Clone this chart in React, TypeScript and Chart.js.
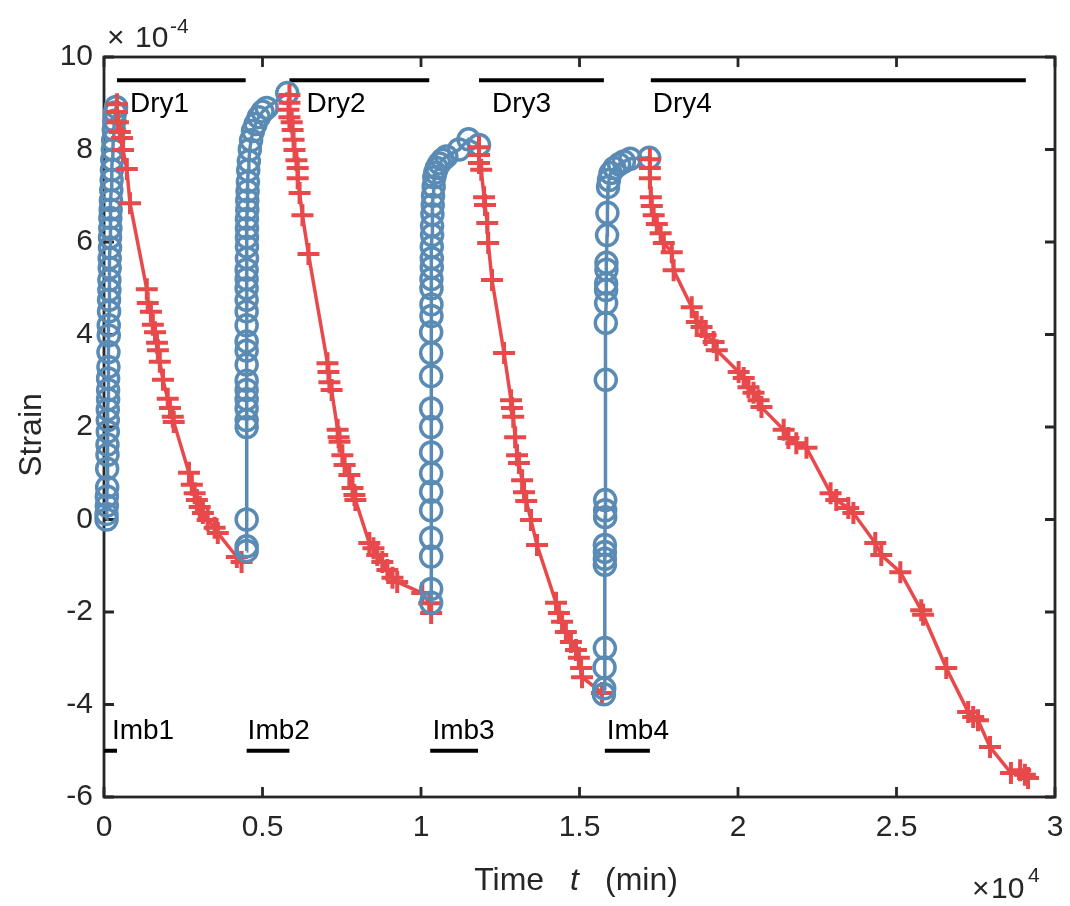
import React, { useEffect, useRef } from 'react';
import { Chart, registerables } from 'chart.js';

Chart.register(...registerables);

// ---------------- data (x in 10^4 min, y in 10^-4 strain) ----------------
const imb1T = [0.008, 0.008, 0.009, 0.009, 0.010, 0.010, 0.011, 0.011, 0.012, 0.012, 0.012, 0.013, 0.013, 0.013, 0.014, 0.014, 0.015, 0.015, 0.016, 0.016, 0.017, 0.017, 0.018, 0.018, 0.019, 0.019, 0.020, 0.020, 0.021, 0.022, 0.023, 0.024, 0.025, 0.026, 0.028, 0.029, 0.031, 0.033, 0.035, 0.038];
const imb1S = [0.00, 0.12, 0.30, 0.50, 0.70, 1.10, 1.40, 1.62, 1.90, 2.15, 2.38, 2.60, 2.80, 3.05, 3.30, 3.62, 3.98, 4.20, 4.50, 4.75, 4.96, 5.18, 5.44, 5.65, 5.88, 6.10, 6.30, 6.52, 6.70, 6.90, 7.12, 7.34, 7.56, 7.78, 8.00, 8.20, 8.42, 8.62, 8.80, 8.92];

const dry1T = [0.041, 0.041, 0.044, 0.050, 0.057, 0.060, 0.072, 0.082, 0.135, 0.138, 0.148, 0.154, 0.161, 0.167, 0.170, 0.176, 0.186, 0.201, 0.208, 0.217, 0.220, 0.268, 0.277, 0.286, 0.293, 0.302, 0.312, 0.327, 0.349, 0.359, 0.419, 0.434];
const dry1S = [8.98, 8.81, 8.59, 8.38, 8.25, 7.99, 7.58, 6.84, 4.98, 4.68, 4.49, 4.21, 4.05, 3.82, 3.66, 3.41, 3.02, 2.61, 2.41, 2.22, 2.11, 1.01, 0.75, 0.57, 0.42, 0.27, 0.14, -0.01, -0.18, -0.29, -0.81, -0.92];

const imb2T = [0.450, 0.450, 0.450, 0.450, 0.450, 0.450, 0.450, 0.450, 0.450, 0.450, 0.450, 0.450, 0.450, 0.450, 0.450, 0.450, 0.450, 0.450, 0.451, 0.451, 0.451, 0.451, 0.451, 0.452, 0.452, 0.453, 0.454, 0.455, 0.457, 0.460, 0.464, 0.470, 0.478, 0.488, 0.500, 0.513, 0.578];
const imb2S = [-0.68, -0.58, 0.00, 2.00, 2.15, 2.40, 2.60, 2.80, 3.00, 3.35, 3.65, 3.85, 4.20, 4.50, 4.75, 5.00, 5.20, 5.40, 5.65, 5.90, 6.10, 6.30, 6.50, 6.70, 6.90, 7.10, 7.30, 7.55, 7.75, 8.00, 8.20, 8.40, 8.55, 8.70, 8.82, 8.90, 9.22];

const dry2T = [0.585, 0.585, 0.582, 0.585, 0.592, 0.595, 0.598, 0.601, 0.607, 0.611, 0.611, 0.617, 0.626, 0.645, 0.705, 0.708, 0.711, 0.718, 0.737, 0.740, 0.743, 0.752, 0.759, 0.774, 0.784, 0.790, 0.793, 0.837, 0.850, 0.862, 0.878, 0.894, 0.910, 0.925, 1.004, 1.026, 1.032];
const dry2S = [9.18, 9.01, 8.86, 8.70, 8.59, 8.42, 8.21, 7.99, 7.77, 7.60, 7.38, 7.06, 6.58, 5.74, 3.38, 3.19, 2.97, 2.80, 1.94, 1.78, 1.68, 1.39, 1.18, 0.96, 0.68, 0.53, 0.42, -0.51, -0.62, -0.77, -0.92, -1.09, -1.26, -1.35, -1.59, -1.81, -2.02];

const imb3T = [1.032, 1.032, 1.032, 1.032, 1.032, 1.032, 1.032, 1.032, 1.032, 1.032, 1.032, 1.032, 1.032, 1.033, 1.033, 1.033, 1.033, 1.034, 1.034, 1.034, 1.035, 1.035, 1.036, 1.037, 1.038, 1.040, 1.042, 1.045, 1.050, 1.058, 1.068, 1.080, 1.120, 1.150, 1.183];
const imb3S = [-1.80, -1.50, -0.80, -0.40, 0.20, 0.60, 1.00, 1.45, 2.00, 2.40, 3.10, 3.60, 4.05, 4.40, 4.65, 5.00, 5.20, 5.45, 5.65, 5.90, 6.15, 6.35, 6.60, 6.80, 7.00, 7.20, 7.40, 7.50, 7.60, 7.70, 7.78, 7.85, 8.00, 8.22, 8.10];

const dry3T = [1.183, 1.183, 1.183, 1.190, 1.199, 1.202, 1.209, 1.212, 1.224, 1.262, 1.284, 1.287, 1.291, 1.297, 1.303, 1.309, 1.319, 1.325, 1.332, 1.347, 1.366, 1.426, 1.435, 1.445, 1.457, 1.473, 1.489, 1.498, 1.505, 1.508, 1.571];
const dry3S = [8.05, 7.88, 7.71, 7.56, 6.97, 6.80, 6.41, 5.98, 5.18, 3.60, 2.58, 2.41, 2.22, 1.78, 1.39, 1.22, 0.85, 0.59, 0.40, -0.01, -0.55, -1.80, -2.02, -2.21, -2.43, -2.65, -2.82, -2.99, -3.21, -3.41, -3.75];

const imb4T = [1.577, 1.578, 1.579, 1.580, 1.580, 1.580, 1.580, 1.580, 1.581, 1.581, 1.581, 1.583, 1.583, 1.584, 1.584, 1.584, 1.585, 1.585, 1.587, 1.588, 1.590, 1.593, 1.598, 1.610, 1.625, 1.640, 1.660, 1.720];
const imb4S = [-3.78, -3.65, -3.20, -2.78, -0.98, -0.85, -0.70, -0.55, 0.05, 0.20, 0.42, 3.02, 4.25, 4.68, 4.96, 5.10, 5.40, 5.55, 6.15, 6.63, 7.19, 7.34, 7.49, 7.60, 7.68, 7.74, 7.80, 7.82];

const dry4T = [1.722, 1.722, 1.722, 1.725, 1.728, 1.734, 1.744, 1.756, 1.766, 1.791, 1.797, 1.854, 1.870, 1.885, 1.898, 1.923, 1.933, 2.002, 2.018, 2.033, 2.049, 2.065, 2.074, 2.144, 2.159, 2.184, 2.216, 2.292, 2.310, 2.348, 2.364, 2.433, 2.452, 2.512, 2.578, 2.584, 2.657, 2.726, 2.742, 2.757, 2.795, 2.861, 2.890, 2.905, 2.915];
const dry4S = [7.79, 7.60, 7.38, 6.97, 6.78, 6.58, 6.39, 6.19, 5.98, 5.78, 5.39, 4.59, 4.27, 4.16, 3.99, 3.84, 3.66, 3.19, 3.06, 2.86, 2.74, 2.58, 2.43, 1.94, 1.76, 1.65, 1.55, 0.57, 0.42, 0.25, 0.14, -0.51, -0.77, -1.14, -1.96, -2.06, -3.21, -4.16, -4.27, -4.34, -4.92, -5.48, -5.42, -5.52, -5.59];

// phase annotations
const dryNames = ['Dry1', 'Dry2', 'Dry3', 'Dry4'];
const dryStart = [0.041, 0.585, 1.183, 1.725];
const dryEnd = [0.447, 1.026, 1.577, 2.908];
const dryLevel = 9.5;
const dryLabelX = [0.082, 0.639, 1.224, 1.731];
const dryLabelY = 8.81;

const imbNames = ['Imb1', 'Imb2', 'Imb3', 'Imb4'];
const imbStart = [0.0, 0.450, 1.029, 1.580];
const imbEnd = [0.041, 0.585, 1.180, 1.722];
const imbLevel = -5.0;
const imbLabelX = [0.025, 0.453, 1.036, 1.586];
const imbLabelY = -4.75;

// axes
const xTickValues = [0, 0.5, 1, 1.5, 2, 2.5, 3];
const xTickLabels = ['0', '0.5', '1', '1.5', '2', '2.5', '3'];
const yTickValues = [-6, -4, -2, 0, 2, 4, 6, 8, 10];
const yTickLabels = ['-6', '-4', '-2', '0', '2', '4', '6', '8', '10'];
const xTitleParts = ['Time', 't', '(min)'];
const yTitle = 'Strain';

const FONT = '"Liberation Sans", Arial, Helvetica, sans-serif';
const AXIS_COLOR = '#262626';
const BLUE = '#5a8bb5';
const RED = '#e8494b';

export default function App() {
  const ref = useRef<HTMLCanvasElement>(null);

  useEffect(() => {
    const canvas = ref.current;
    if (!canvas) return;

    const segments = [
      { kind: 'imb', t: imb1T, s: imb1S },
      { kind: 'dry', t: dry1T, s: dry1S },
      { kind: 'imb', t: imb2T, s: imb2S },
      { kind: 'dry', t: dry2T, s: dry2S },
      { kind: 'imb', t: imb3T, s: imb3S },
      { kind: 'dry', t: dry3T, s: dry3S },
      { kind: 'imb', t: imb4T, s: imb4S },
      { kind: 'dry', t: dry4T, s: dry4S },
    ];

    const datasets: any[] = segments.map((seg, i) => {
      const isImb = seg.kind === 'imb';
      const color = isImb ? BLUE : RED;
      return {
        data: seg.t.map((x, k) => ({ x, y: seg.s[k] })),
        showLine: true,
        borderColor: color,
        backgroundColor: 'rgba(0,0,0,0)',
        borderWidth: 3.5,
        pointStyle: isImb ? 'circle' : 'cross',
        pointRadius: isImb ? 10.5 : 11,
        pointBorderWidth: isImb ? 3.5 : 4,
        pointBorderColor: color,
        pointBackgroundColor: 'rgba(0,0,0,0)',
        clip: false,
        order: 100 - i,
      };
    });

    dryStart.forEach((s, i) => {
      datasets.push({
        data: [{ x: s, y: dryLevel }, { x: dryEnd[i], y: dryLevel }],
        showLine: true,
        borderColor: '#000',
        borderWidth: 4,
        pointRadius: 0,
        clip: false,
        order: 200,
      });
    });
    imbStart.forEach((s, i) => {
      datasets.push({
        data: [{ x: s, y: imbLevel }, { x: imbEnd[i], y: imbLevel }],
        showLine: true,
        borderColor: '#000',
        borderWidth: 4,
        pointRadius: 0,
        clip: false,
        order: 200,
      });
    });

    const TICK = 10;

    const decor = {
      id: 'decor',
      beforeDatasetsDraw(chart: any) {
        const { ctx, chartArea, scales } = chart;
        const { left, right, top, bottom } = chartArea;
        ctx.save();
        ctx.strokeStyle = AXIS_COLOR;
        ctx.lineWidth = 2.8;
        ctx.beginPath();
        xTickValues.forEach((v) => {
          const px = scales.x.getPixelForValue(v);
          ctx.moveTo(px, bottom);
          ctx.lineTo(px, bottom - TICK);
          ctx.moveTo(px, top);
          ctx.lineTo(px, top + TICK);
        });
        yTickValues.forEach((v) => {
          const py = scales.y.getPixelForValue(v);
          ctx.moveTo(left, py);
          ctx.lineTo(left + TICK, py);
          ctx.moveTo(right, py);
          ctx.lineTo(right - TICK, py);
        });
        ctx.stroke();
        ctx.strokeRect(left, top, right - left, bottom - top);
        ctx.restore();
      },
      afterDatasetsDraw(chart: any) {
        const { ctx, scales } = chart;
        ctx.save();
        ctx.fillStyle = '#000';
        ctx.font = `28px ${FONT}`;
        ctx.textAlign = 'left';
        ctx.textBaseline = 'alphabetic';
        dryNames.forEach((n, i) => {
          ctx.fillText(n, scales.x.getPixelForValue(dryLabelX[i]), scales.y.getPixelForValue(dryLabelY));
        });
        imbNames.forEach((n, i) => {
          ctx.fillText(n, scales.x.getPixelForValue(imbLabelX[i]), scales.y.getPixelForValue(imbLabelY));
        });
        ctx.restore();
      },
      afterDraw(chart: any) {
        const { ctx, chartArea } = chart;
        ctx.save();
        ctx.fillStyle = AXIS_COLOR;
        ctx.textBaseline = 'alphabetic';
        // x title with italic t
        const normal = `32px ${FONT}`;
        const italic = `italic 32px ${FONT}`;
        ctx.font = normal;
        const gap = 26;
        const w0 = ctx.measureText(xTitleParts[0]).width;
        const w2 = ctx.measureText(xTitleParts[2]).width;
        ctx.font = italic;
        const w1 = ctx.measureText(xTitleParts[1]).width;
        const total = w0 + gap + w1 + gap + w2;
        let xx = 576 - total / 2;
        const by = 890;
        ctx.textAlign = 'left';
        ctx.font = normal;
        ctx.fillText(xTitleParts[0], xx, by);
        xx += w0 + gap;
        ctx.font = italic;
        ctx.fillText(xTitleParts[1], xx, by);
        xx += w1 + gap;
        ctx.font = normal;
        ctx.fillText(xTitleParts[2], xx, by);

        // y title
        ctx.save();
        ctx.translate(41, (chartArea.top + chartArea.bottom) / 2 + 8);
        ctx.rotate(-Math.PI / 2);
        ctx.textAlign = 'center';
        ctx.font = normal;
        ctx.fillText(yTitle, 0, 0);
        ctx.restore();

        // exponent multipliers
        ctx.textAlign = 'left';
        ctx.font = `30px ${FONT}`;
        ctx.fillText('\u00d7', 107, 47);
        ctx.fillText('10', 135, 47);
        ctx.font = `21px ${FONT}`;
        ctx.fillText('-4', 170, 33);

        ctx.font = `30px ${FONT}`;
        ctx.fillText('\u00d7', 972, 898);
        ctx.fillText('10', 991, 898);
        ctx.font = `21px ${FONT}`;
        ctx.fillText('4', 1028, 882);
        ctx.restore();
      },
    };

    const chart = new Chart(canvas, {
      type: 'scatter',
      data: { datasets },
      options: {
        animation: false,
        responsive: false,
        devicePixelRatio: 1,
        events: [],
        layout: { padding: { left: 0, right: 13, top: 57, bottom: 0 } },
        plugins: {
          legend: { display: false },
          tooltip: { enabled: false },
          title: { display: false },
        },
        scales: {
          x: {
            type: 'linear',
            min: 0,
            max: 3,
            afterFit: (s: any) => {
              s.height = 109;
              s.paddingLeft = 0;
              s.paddingRight = 0;
            },
            afterBuildTicks: (s: any) => {
              s.ticks = xTickValues.map((v) => ({ value: v }));
            },
            grid: { display: false, drawTicks: false },
            border: { display: false },
            ticks: {
              padding: 13,
              color: AXIS_COLOR,
              font: { family: FONT, size: 30 },
              maxRotation: 0,
              autoSkip: false,
              callback: (_v: any, i: number) => xTickLabels[i],
            },
          },
          y: {
            type: 'linear',
            min: -6,
            max: 10,
            afterFit: (s: any) => {
              s.width = 104;
              s.paddingTop = 0;
              s.paddingBottom = 0;
            },
            afterBuildTicks: (s: any) => {
              s.ticks = yTickValues.map((v) => ({ value: v }));
            },
            grid: { display: false, drawTicks: false },
            border: { display: false },
            ticks: {
              padding: 11,
              color: AXIS_COLOR,
              font: { family: FONT, size: 30 },
              autoSkip: false,
              callback: (_v: any, i: number) => yTickLabels[i],
            },
          },
        },
      },
      plugins: [decor],
    } as any);

    return () => {
      chart.destroy();
    };
  }, []);

  return (
    <div style={{ position: 'absolute', left: 0, top: 0, width: 1070, height: 906, background: '#fff' }}>
      <canvas ref={ref} width={1070} height={906} style={{ display: 'block', width: 1070, height: 906 }} />
    </div>
  );
}
